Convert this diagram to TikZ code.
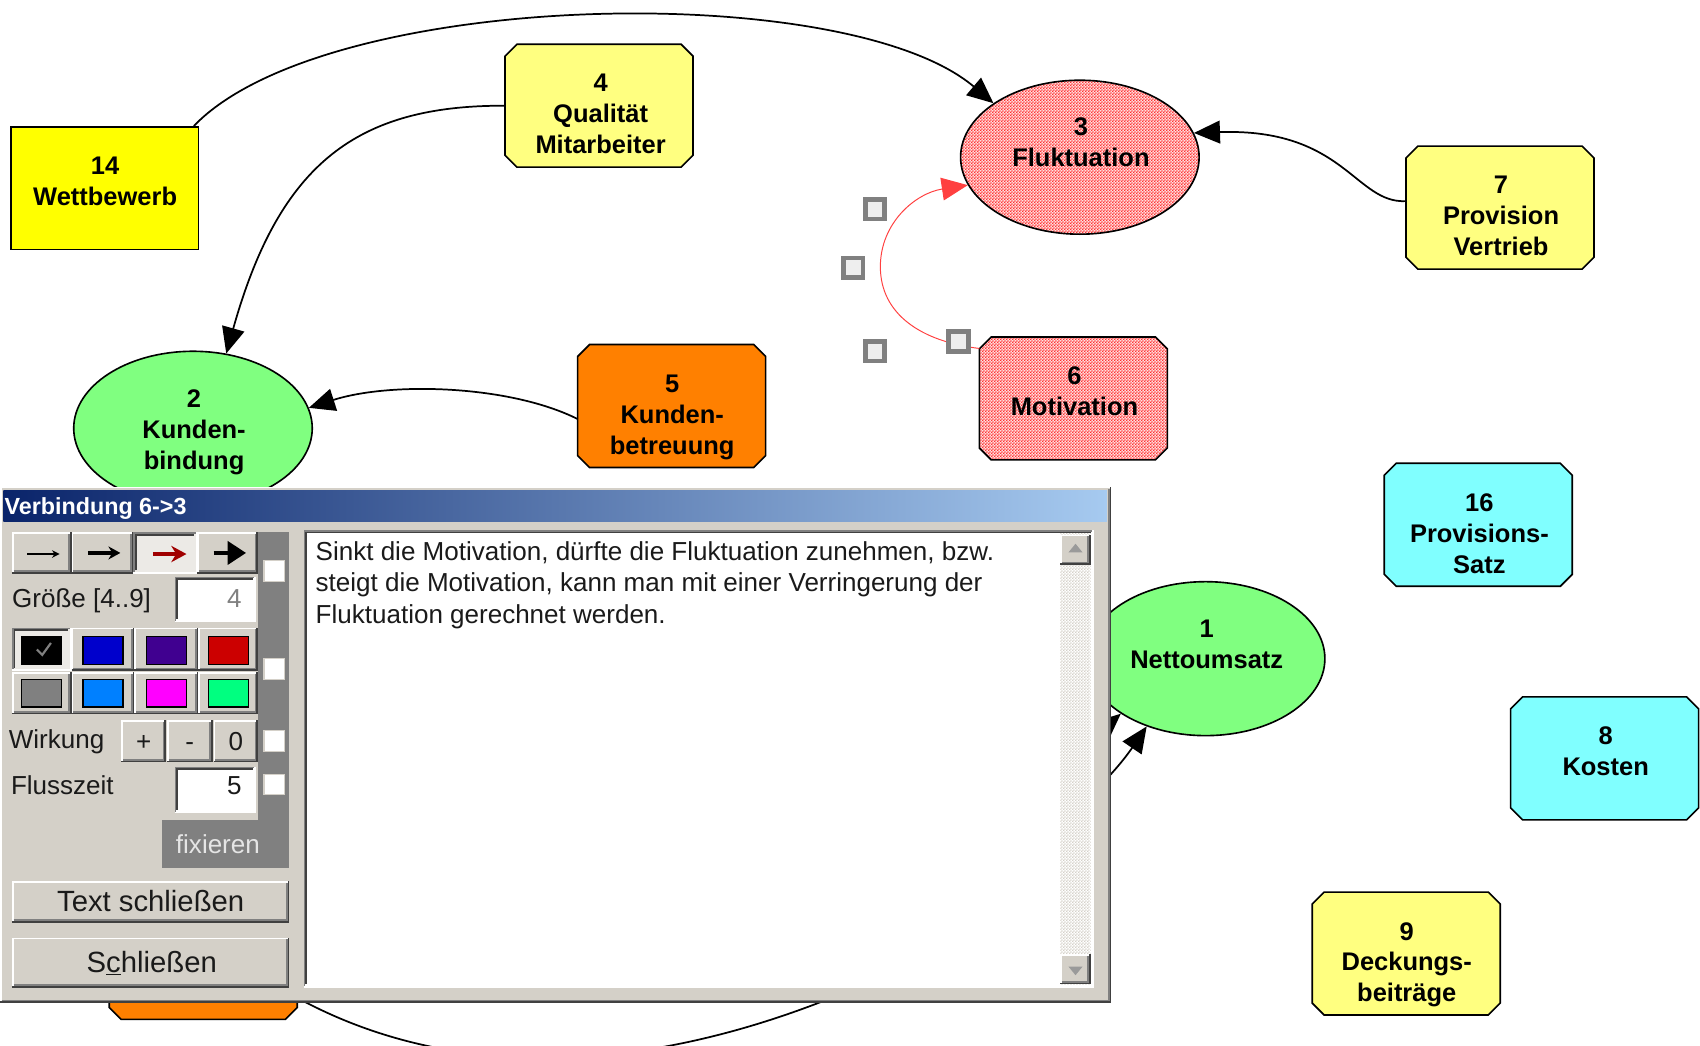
\documentclass[tikz,border=0pt]{standalone}
\usepackage{fontspec}
\setmainfont{Liberation Sans}
\usetikzlibrary{shapes.geometric,arrows.meta,patterns}

% diagram colours
\definecolor{lightyellow}{HTML}{FFFF80}
\definecolor{brightyellow}{HTML}{FFFF00}
\definecolor{nodeorange}{HTML}{FF8000}
\definecolor{nodegreen}{HTML}{80FF80}
\definecolor{nodecyan}{HTML}{80FFFF}
\definecolor{hatchred}{HTML}{FF3030}
\definecolor{hatchback}{HTML}{FFE0E0}
\definecolor{selred}{HTML}{FF4040}
\definecolor{handlegray}{HTML}{808080}
\definecolor{handlefill}{HTML}{EEEEEE}
% window colours
\definecolor{winface}{HTML}{D4D0C8}
\definecolor{winshadow}{HTML}{808080}
\definecolor{windark}{HTML}{404040}
\definecolor{winlight}{HTML}{FFFFFF}
\definecolor{titledark}{HTML}{0A246A}
\definecolor{titlelight}{HTML}{A6CAF0}
\definecolor{wintext}{HTML}{1A1A1A}
\definecolor{pressedface}{HTML}{ECEAE6}
\definecolor{arrowred}{HTML}{A00000}
\definecolor{swblue}{HTML}{0000CC}
\definecolor{swpurple}{HTML}{400090}
\definecolor{swred}{HTML}{CC0000}
\definecolor{swgray}{HTML}{808080}
\definecolor{swazure}{HTML}{0080FF}
\definecolor{swmagenta}{HTML}{FF00FF}
\definecolor{swgreen}{HTML}{00FF80}

% fine two-colour checker used for hatched fills
\pgfdeclarepatternformonly{finechecker}{\pgfpointorigin}{\pgfqpoint{3pt}{3pt}}{\pgfqpoint{3pt}{3pt}}{%
  \pgfpathrectangle{\pgfpointorigin}{\pgfqpoint{1.5pt}{1.5pt}}%
  \pgfpathrectangle{\pgfqpoint{1.5pt}{1.5pt}}{\pgfqpoint{1.5pt}{1.5pt}}%
  \pgfusepath{fill}}

% octagonal outline around a rectangular node: {node}{path options}
\newcommand\octagon[2]{%
  \path[draw=black, line width=1.5pt, #2]
    ([xshift=11pt]#1.north west) -- ([xshift=-11pt]#1.north east)
    -- ([yshift=-11pt]#1.north east) -- ([yshift=11pt]#1.south east)
    -- ([xshift=-11pt]#1.south east) -- ([xshift=11pt]#1.south west)
    -- ([yshift=11pt]#1.south west) -- ([yshift=-11pt]#1.north west) -- cycle;
}

% 3D panels: {x1}{y1}{x2}{y2}{face colour}, y grows downwards
\newcommand\raisedpanel[5]{%
  \fill[#5] (#1,#2) rectangle (#3,#4);
  \draw[winlight,line width=1.5pt] (#1+0.75,#4-1.5) -- (#1+0.75,#2+0.75) -- (#3-1.5,#2+0.75);
  \draw[winshadow,line width=1.5pt] (#1+1.5,#4-2.25) -- (#3-2.25,#4-2.25) -- (#3-2.25,#2+1.5);
  \draw[windark,line width=1.5pt] (#1,#4-0.75) -- (#3-0.75,#4-0.75) -- (#3-0.75,#2);
}
\newcommand\sunkenpanel[5]{%
  \fill[#5] (#1,#2) rectangle (#3,#4);
  \draw[winshadow,line width=1.5pt] (#1+0.75,#4-1.5) -- (#1+0.75,#2+0.75) -- (#3-1.5,#2+0.75);
  \draw[windark,line width=1.5pt] (#1+2.25,#4-3) -- (#1+2.25,#2+2.25) -- (#3-3,#2+2.25);
  \draw[winlight,line width=1.5pt] (#1,#4-0.75) -- (#3-0.75,#4-0.75) -- (#3-0.75,#2);
}

\begin{document}
\begin{tikzpicture}[x=1pt,y=-1pt,
  lbl/.style={font=\fontsize{23.5}{28.5}\selectfont\bfseries, align=center, inner sep=0pt, anchor=north, text=black},
  octbox/.style={rectangle, minimum width=173pt, minimum height=113pt, inner sep=0pt},
  sqbox/.style={rectangle, draw=black, line width=1.5pt, minimum width=173pt, minimum height=113pt, inner sep=0pt},
  oval/.style={ellipse, draw=black, line width=1.5pt, minimum width=220pt, minimum height=142pt, inner sep=0pt},
  hatched/.style={preaction={fill=hatchback}, pattern=finechecker, pattern color=hatchred},
  link/.style={draw=black, line width=1.6pt, -{Triangle[length=24pt,width=21pt]}},
  sellink/.style={draw=selred, line width=0.9pt, -{Triangle[length=24pt,width=21pt,fill=selred]}},
  handle/.style={draw=handlegray, line width=4.5pt, fill=handlefill, minimum size=18pt, inner sep=0pt},
  ui/.style={font=\fontsize{24}{29}\selectfont, text=wintext, inner sep=0pt},
  uibig/.style={font=\fontsize{27}{30}\selectfont, text=wintext, inner sep=0pt},
  check/.style={draw=winface, line width=1pt, fill=white, minimum size=19pt, inner sep=0pt},
]
\useasboundingbox (0,0) rectangle (1568,964);
\clip (0,0) rectangle (1568,964);
\fill[white] (0,0) rectangle (1568,964);

% ---------- factor nodes ----------
\node[octbox] (n10) at (187.5,883.5) {};
\node[sqbox, fill=brightyellow] (n14) at (96.5,173.5) {};
\node[octbox] (n4) at (552.5,97.5) {};
\node[oval, hatched] (n3) at (996,145) {};
\node[octbox] (n7) at (1383.5,191.5) {};
\node[oval, fill=nodegreen] (n2) at (178,395) {};
\node[octbox] (n5) at (619.5,374.5) {};
\node[octbox] (n6) at (990,367.5) {};
\node[octbox] (n16) at (1363.5,484) {};
\node[oval, fill=nodegreen] (n1) at (1112,607.5) {};
\node[octbox] (n8) at (1480,699.5) {};
\node[octbox] (n9) at (1297,879.5) {};

\octagon{n10}{fill=nodeorange}
\octagon{n4}{fill=lightyellow}
\octagon{n7}{fill=lightyellow}
\octagon{n5}{fill=nodeorange}
\octagon{n6}{hatched}
\octagon{n16}{fill=nodecyan}
\octagon{n8}{fill=nodecyan}
\octagon{n9}{fill=lightyellow}

\node[lbl] (l14) at (97,144.4) {14\\Wettbewerb};
\node[lbl] (l4) at (554,68.4) {4\\Qualität\\Mitarbeiter};
\node[lbl] (l3) at (997,108.4) {3\\Fluktuation};
\node[lbl] (l7) at (1384.5,162.4) {7\\Provision\\Vertrieb};
\node[lbl] (l2) at (179,359.4) {2\\Kunden-\\bindung};
\node[lbl] (l5) at (620,345.4) {5\\Kunden-\\betreuung};
\node[lbl] (l6) at (991,338.4) {6\\Motivation};
\node[lbl] (l16) at (1364.5,455.4) {16\\Provisions-\\Satz};
\node[lbl] (l1) at (1113,571.4) {1\\Nettoumsatz};
\node[lbl] (l8) at (1481,670.4) {8\\Kosten};
\node[lbl] (l9) at (1297.5,850.4) {9\\Deckungs-\\beiträge};

% ---------- connections ----------
\draw[link] ([xshift=-5pt]n14.north east) .. controls (300,-10) and (780,-20) .. (n3.148);
\draw[link] (n4.west) .. controls (330,97) and (258,150) .. (n2.66);
\draw[link] ([yshift=6pt]n7.west) .. controls (1250,188) and (1240,118) .. (n3.12);
\draw[link] ([yshift=-12pt]n5.west) .. controls (470,355) and (360,352) .. (n2.10);
\draw[link] (n10.-23) .. controls (420,1000) and (600,990) .. (780,915)
  .. controls (900,830) and (1010,740) .. (n1.229);
\draw[link] (n2.south) .. controls (400,720) and (980,705) .. (n1.213);

% selected connection 6 -> 3 with its handles
\draw[sellink] (n6.152) .. controls (850,315) and (812,290) .. (812,246)
  .. controls (812,205) and (845,178) .. (n3.194);
\node[handle] (h1) at (807,193) {};
\node[handle] (h2) at (787,247) {};
\node[handle] (h3) at (807,324) {};
\node[handle] (h4) at (884,315) {};

% ---------- dialog window ----------
\fill[winface] (0,449) rectangle (1025,925);
\draw[winlight, line width=1.5pt] (0.75,925) -- (0.75,449.75) -- (1024,449.75);
\draw[winshadow, line width=1.5pt] (1.5,922.75) -- (1022.75,922.75) -- (1022.75,451);
\draw[windark, line width=1.5pt] (0,924.25) -- (1024.25,924.25) -- (1024.25,449);
\shade[left color=titledark, right color=titlelight] (3,452) rectangle (1021,481);
\node[font=\fontsize{21.5}{24}\selectfont\bfseries, text=white, anchor=base west, inner sep=0pt] (title) at (4,475) {Verbindung 6->3};

% arrow style buttons
\raisedpanel{11}{491}{66}{529}{winface}
\raisedpanel{66}{491}{123}{529}{winface}
\sunkenpanel{123}{491}{182}{529}{pressedface}
\raisedpanel{182}{491}{238}{529}{winface}
\draw[black, line width=1.6pt, -{Stealth[length=7pt,width=7pt]}] (25,511) -- (55,511);
\draw[black, line width=3.2pt, -{Stealth[length=11pt,width=12pt]}] (81,510) -- (111,510);
\draw[arrowred, line width=3.6pt, -{Stealth[length=14pt,width=15pt]}] (141,511) -- (172,511);
\draw[black, line width=4pt, -{Triangle[length=17pt,width=21pt]}] (197,510) -- (227,510);

% dark side strip and fix button
\fill[winshadow] (238,491) rectangle (267,801);
\fill[winshadow] (149,756) rectangle (267,801);
\node[check] (cb1) at (253,526.5) {};
\node[check] (cb2) at (253,617) {};
\node[check] (cb3) at (253,683.5) {};
\node[check] (cb4) at (253,723.5) {};
\node[ui, anchor=base, text=white!90!black] (fix) at (201,787) {fixieren};

% size field
\node[ui, anchor=base west] (lsize) at (11,560) {Größe [4..9]};
\sunkenpanel{161}{532}{236}{574}{white}
\node[ui, anchor=base east, text=winshadow] (vsize) at (223,560) {4};

% colour buttons
\sunkenpanel{11}{579}{66}{619}{pressedface}
\raisedpanel{66}{579}{124}{619}{winface}
\raisedpanel{124}{579}{183}{619}{winface}
\raisedpanel{183}{579}{238}{619}{winface}
\raisedpanel{11}{620}{66}{659}{winface}
\raisedpanel{66}{620}{124}{659}{winface}
\raisedpanel{124}{620}{183}{659}{winface}
\raisedpanel{183}{620}{238}{659}{winface}
\draw[black, line width=1.2pt, fill=black] (20,587) rectangle (57,613);
\draw[black, line width=1.2pt, fill=swblue] (76.5,587) rectangle (113.5,613);
\draw[black, line width=1.2pt, fill=swpurple] (135,587) rectangle (172,613);
\draw[black, line width=1.2pt, fill=swred] (192,587) rectangle (229,613);
\draw[black, line width=1.2pt, fill=swgray] (20,627) rectangle (57,652);
\draw[black, line width=1.2pt, fill=swazure] (76.5,627) rectangle (113.5,652);
\draw[black, line width=1.2pt, fill=swmagenta] (135,627) rectangle (172,652);
\draw[black, line width=1.2pt, fill=swgreen] (192,627) rectangle (229,652);
\draw[winshadow, line width=2pt] (34,599) -- (39,604) -- (47,593);

% effect buttons
\node[ui, anchor=base west] (leff) at (8,690) {Wirkung};
\raisedpanel{112}{664}{153}{703}{winface}
\raisedpanel{154}{664}{196}{703}{winface}
\raisedpanel{197}{664}{238}{703}{winface}
\node[ui, anchor=base] (bplus) at (132.5,692) {+};
\node[ui, anchor=base] (bminus) at (175,692) {-};
\node[ui, anchor=base] (bzero) at (217.5,692) {0};

% flow time field
\node[ui, anchor=base west] (lflow) at (10,733) {Flusszeit};
\sunkenpanel{161}{707}{236}{750}{white}
\node[ui, anchor=base east] (vflow) at (223,733) {5};

% dialog buttons
\raisedpanel{11}{813}{267}{851}{winface}
\node[uibig, anchor=base] (btext) at (139,841) {Text schließen};
\raisedpanel{11}{865}{267}{911}{winface}
\node[uibig, anchor=base] (bclose) at (140,897) {S\underline{c}hließen};

% text area with scroll bar
\sunkenpanel{280}{489}{1009}{911}{white}
\path[preaction={fill=white}, pattern=finechecker, pattern color=winface] (978,492) rectangle (1006,908);
\raisedpanel{978}{493}{1006}{521}{winface}
\raisedpanel{978}{880}{1006}{908}{winface}
\fill[winshadow!80] (992,501.5) -- (985.5,509.5) -- (998.5,509.5) -- cycle;
\fill[winshadow!80] (992,899.5) -- (985.5,891.5) -- (998.5,891.5) -- cycle;
\node[ui, anchor=base west] (t1) at (291,517) {Sinkt die Motivation, dürfte die Fluktuation zunehmen, bzw.};
\node[ui, anchor=base west] (t2) at (291,546) {steigt die Motivation, kann man mit einer Verringerung der};
\node[ui, anchor=base west] (t3) at (291,575) {Fluktuation gerechnet werden.};
\end{tikzpicture}
\end{document}
